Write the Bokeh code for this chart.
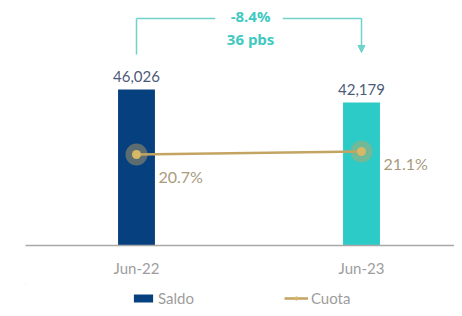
from bokeh.plotting import figure
from bokeh.layouts import column
from bokeh.models import (Range1d, FixedTicker, Legend, LegendItem, Label, Arrow,
                          NormalHead, ColumnDataSource)
from bokeh.embed import file_html
from bokeh.resources import INLINE
from bokeh.core.properties import value

# ---- data ----
categories = ["Jun-22", "Jun-23"]
saldo = [46026, 42179]
cuota = [20.7, 21.1]
saldo_labels = ["46,026", "42,179"]
cuota_labels = ["20.7%", "21.1%"]
change_lines = ["-8.4%", "36 pbs"]

bar_colors = ["#07407f", "#2ccbc7"]
gold = "#c4a462"
teal = "#3fc9c1"
FONT = "Lato"

xs = list(range(len(categories)))
src = ColumnDataSource(dict(x=xs, saldo=saldo, cuota=cuota, color=bar_colors,
                            slab=saldo_labels, clab=cuota_labels))

p = figure(width=454, height=284, output_backend="svg", toolbar_location=None,
           x_range=Range1d(-0.4933, 1.4133), y_range=Range1d(0, 72285),
           y_axis_location=None,
           min_border_left=25, min_border_right=0, min_border_top=0,
           min_border_bottom=39)
p.extra_y_ranges = {"cuota": Range1d(8.567, 41.23)}
p.outline_line_color = None
p.grid.visible = False
p.background_fill_color = "white"
p.border_fill_color = "white"

ax = p.xaxis[0]
ax.ticker = FixedTicker(ticks=xs)
ax.major_label_overrides = {i: c for i, c in zip(xs, categories)}
ax.axis_line_color = "#a8a8a8"
ax.axis_line_width = 1.5
ax.major_tick_line_color = None
ax.minor_tick_line_color = None
ax.major_label_text_color = "#9d9d9d"
ax.major_label_text_font = FONT
ax.major_label_text_font_size = "15px"
ax.major_label_standoff = 7

bars = p.vbar(x="x", top="saldo", width=0.164, fill_color="color", line_color=None, source=src)

p.text(x="x", y="saldo", text="slab", source=src, text_align="center",
       text_baseline="bottom", y_offset=-8, text_color="#4d5b7a",
       text_font=value(FONT), text_font_size="15px")

line = p.line(x="x", y="cuota", source=src, y_range_name="cuota",
              line_color=gold, line_width=2.5)
halo = p.scatter(x="x", y="cuota", source=src, y_range_name="cuota", size=22,
                 fill_color=gold, fill_alpha=0.45, line_color=None)
dot = p.scatter(x="x", y="cuota", source=src, y_range_name="cuota", size=9,
                fill_color="#d6b866", line_color=None)

label_dy = [22, 12]
for i in xs:
    p.add_layout(Label(x=xs[i], y=cuota[i], y_range_name="cuota", text=cuota_labels[i],
                       x_offset=22, y_offset=-label_dy[i], text_baseline="middle",
                       text_align="left", text_color="#a89a7c", text_font=FONT,
                       text_font_size="16px"))

# change bracket
top_y = 66975
left_y = 56353
arrow_y = 56943
gap = 0.15
mid = 0.5
p.segment(x0=[xs[0], xs[0], mid + gap], y0=[left_y, top_y, top_y],
          x1=[xs[0], mid - gap, xs[1]], y1=[top_y, top_y, top_y],
          line_color="#6fd3cc", line_width=1.5)
p.add_layout(Arrow(x_start=xs[1], y_start=top_y, x_end=xs[1], y_end=arrow_y,
                   line_color="#6fd3cc", line_width=1.5,
                   end=NormalHead(size=7, fill_color="#6fd3cc", line_color="#6fd3cc")))
p.add_layout(Label(x=mid + 0.007, y=67565, text=change_lines[0], text_align="center",
                   text_baseline="middle", text_color=teal, text_font="Open Sans",
                   text_font_style="bold", text_font_size="15px"))
p.add_layout(Label(x=mid + 0.007, y=61073, text=change_lines[1], text_align="center",
                   text_baseline="middle", text_color=teal, text_font="Open Sans",
                   text_font_style="bold", text_font_size="15px"))

# legend strip (a second, axis-less figure whose glyphs lie outside its view)
q = figure(width=454, height=24, output_backend="svg", toolbar_location=None,
           x_range=Range1d(10, 11), y_range=Range1d(-10, -9),
           x_axis_location=None, y_axis_location=None,
           min_border_left=0, min_border_right=0, min_border_top=0, min_border_bottom=0)
q.outline_line_color = None
q.grid.visible = False
lbars = q.vbar(x="x", top="saldo", width=0.164, fill_color="color", line_color=None, source=src)
lline = q.line(x="x", y="cuota", source=src, line_color=gold, line_width=2.5)
lhalo = q.scatter(x="x", y="cuota", source=src, size=22,
                  fill_color=gold, fill_alpha=0.45, line_color=None)
ldot = q.scatter(x="x", y="cuota", source=src, size=9, fill_color="#d6b866", line_color=None)

legend = Legend(items=[LegendItem(label="Saldo", renderers=[lbars], index=0),
                       LegendItem(label="Cuota", renderers=[lline, lhalo, ldot])],
                orientation="horizontal", location=(106, 1),
                glyph_width=24, glyph_height=10, label_standoff=3, spacing=90,
                label_text_font=FONT, label_text_font_size="15px",
                label_text_color="#9d9d9d", border_line_color=None,
                background_fill_alpha=0, padding=0, margin=0)
q.add_layout(legend, "center")

layout = column(p, q, spacing=0)
open("out.html", "w").write(file_html(layout, INLINE))
